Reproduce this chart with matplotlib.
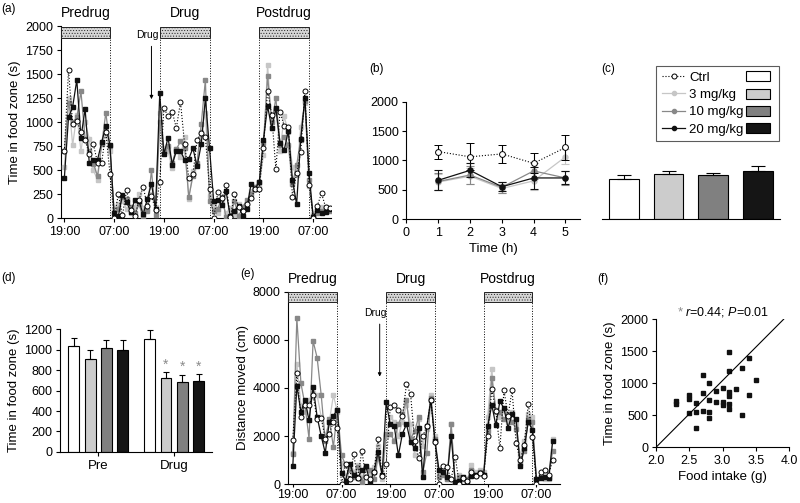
import numpy as np
import matplotlib.pyplot as plt
from matplotlib.lines import Line2D
from matplotlib.patches import Patch, Rectangle

plt.rcParams['font.family'] = ['Liberation Sans', 'DejaVu Sans']
plt.rcParams['font.size'] = 9
plt.rcParams['mathtext.fontset'] = 'custom'
plt.rcParams['mathtext.it'] = 'Liberation Sans:italic'
plt.rcParams['mathtext.rm'] = 'Liberation Sans'
plt.rcParams['axes.linewidth'] = 0.8
plt.rcParams['xtick.major.size'] = 3
plt.rcParams['ytick.major.size'] = 3
plt.rcParams['xtick.major.width'] = 0.8
plt.rcParams['ytick.major.width'] = 0.8
plt.rcParams['xtick.major.pad'] = 2.5
plt.rcParams['ytick.major.pad'] = 2.5
plt.rcParams['axes.labelpad'] = 3
plt.rcParams['hatch.color'] = '#9a9a9a'
plt.rcParams['hatch.linewidth'] = 0.4

GROUPS = ["Ctrl", "3 mg/kg", "10 mg/kg", "20 mg/kg"]

# (a) time in food zone, hourly, from 19:00 predrug day
hours = list(range(65))
a_ctrl = [700, 1540, 980, 1010, 900, 810, 670, 770, 580, 580, 900, 460,
          0, 250, 30, 290, 90, 20, 190, 330, 130, 230, 90,
          380, 1150, 1060, 1110, 940, 1210, 770, 420, 460, 820, 890, 850, 310,
          0, 270, 210, 350, 10, 250, 120, 80, 150, 210, 300, 310,
          735, 1330, 1075, 510, 1110, 960, 955, 225, 470, 695, 1320, 350,
          0, 130, 260, 115, 110]
a_low = [530, 1250, 760, 1080, 700, 1000, 830, 500, 400, 780, 880, 700,
         100, 150, 180, 100, 60, 120, 250, 110, 100, 250, 120,
         1100, 730, 700, 520, 720, 640, 850, 200, 490, 560, 900, 1100, 230,
         130, 50, 170, 50, 110, 30, 150, 90, 140, 280, 330, 340,
         660, 1600, 940, 1130, 700, 1060, 900, 530, 450, 950, 1200, 340,
         40, 80, 120, 120, 90]
a_mid = [700, 1200, 1000, 1050, 1320, 830, 700, 570, 440, 770, 1100, 750,
         0, 100, 220, 200, 120, 50, 150, 0, 80, 500, 30,
         1000, 700, 750, 580, 720, 800, 730, 220, 440, 580, 980, 1440, 180,
         80, 100, 220, 10, 0, 180, 20, 120, 190, 250, 330, 380,
         780, 1480, 1000, 1250, 760, 850, 760, 360, 550, 820, 1220, 400,
         20, 60, 80, 100, 80]
a_high = [420, 1050, 1160, 1440, 840, 1140, 580, 610, 610, 790, 960, 760,
          50, 20, 240, 170, 70, 190, 180, 40, 200, 360, 100,
          1300, 665, 840, 560, 700, 700, 610, 620, 730, 540, 770, 1250, 730,
          180, 190, 140, 280, 20, 80, 130, 20, 100, 355, 310, 380,
          815, 1170, 935, 1145, 785, 710, 910, 400, 145, 830, 1255, 470,
          10, 85, 60, 70, 95]

# (b) first 5 h after drug
b_time = [1, 2, 3, 4, 5]
b_ctrl = [1150, 1060, 1110, 950, 1220]
b_ctrl_err = [120, 230, 150, 170, 220]
b_low = [630, 730, 520, 650, 1060]
b_low_err = [130, 140, 80, 150, 130]
b_mid = [640, 750, 540, 820, 700]
b_mid_err = [150, 160, 90, 140, 120]
b_high = [660, 830, 550, 700, 700]
b_high_err = [170, 120, 80, 190, 110]

# (c) total
c_vals = [682, 767, 745, 813]
c_err = [68, 57, 45, 96]

# (d) pre vs drug
d_pre = [1034, 907, 1015, 995]
d_pre_err = [78, 88, 74, 94]
d_drug = [1102, 722, 686, 696]
d_drug_err = [85, 55, 65, 62]
d_sig = [False, True, True, True]

# (e) distance moved
e_ctrl = [1850, 4600, 2800, 3300, 3300, 3700, 2700, 2750, 1900, 2100, 2600, 2350,
          0, 850, 200, 1250, 250, 1400, 300, 200, 500, 1900, 350,
          850, 3200, 3300, 3100, 2850, 4150, 3750, 1800, 1100, 2000, 2400, 3500, 1750,
          0, 750, 700, 200, 1150, 0, 250, 150, 500, 350, 450, 350,
          2000, 3950, 3050, 1500, 3900, 2850, 3900, 1700, 1000, 1650, 3350, 1950,
          0, 500, 600, 400, 1000]
e_low = [1300, 5000, 3300, 3000, 3500, 3800, 3700, 2800, 2000, 2600, 3700, 3000,
         900, 300, 700, 500, 800, 300, 600, 400, 700, 1600, 200,
         2000, 2800, 2600, 2000, 2600, 3300, 2500, 1200, 2700, 1600, 2300, 3700, 2000,
         500, 700, 200, 2500, 100, 400, 300, 200, 800, 500, 600, 500,
         2800, 4800, 3000, 2800, 3100, 2600, 3000, 2500, 1200, 1800, 2900, 2800,
         100, 400, 200, 200, 1900]
e_mid = [1250, 6900, 4200, 3300, 1900, 5950, 5250, 3700, 1800, 2700, 1550, 3100,
         1200, 800, 600, 300, 700, 100, 700, 600, 200, 1100, 400,
         2100, 2100, 1800, 2500, 2900, 3500, 1900, 2200, 2800, 500, 1300, 3600, 1900,
         300, 400, 200, 2500, 0, 300, 200, 200, 600, 400, 500, 400,
         2200, 4400, 3100, 3000, 2700, 2900, 2600, 2300, 900, 1400, 2700, 2600,
         200, 300, 300, 300, 1400]
e_high = [750, 4100, 3000, 3500, 2650, 4050, 2800, 2000, 1300, 2600, 2850, 3100,
          450, 150, 850, 400, 250, 600, 750, 100, 500, 1350, 400,
          3400, 2500, 2400, 1200, 2100, 2500, 1750, 1500, 2350, 300, 2400, 3500, 1800,
          600, 500, 300, 2000, 100, 150, 300, 50, 350, 400, 450, 400,
          2400, 3300, 2450, 3450, 3150, 2350, 2900, 2700, 750, 1500, 2600, 2250,
          200, 250, 300, 250, 1800]

# (f) food intake vs time in food zone
f_intake = [2.3, 2.3, 2.5, 2.5, 2.5, 2.6, 2.6, 2.6, 2.7, 2.7, 2.7, 2.8, 2.8, 2.8, 2.8,
            2.9, 2.9, 3.0, 3.0, 3.0, 3.1, 3.1, 3.1, 3.1, 3.1, 3.1, 3.2, 3.3, 3.3, 3.4, 3.4, 3.5]
f_time = [727, 675, 810, 758, 530, 686, 545, 306, 1127, 842, 566, 997, 738, 556, 452,
          873, 712, 930, 712, 660, 1491, 1195, 857, 805, 681, 592, 904, 1236, 499, 1387, 810, 1049]
f_slope = 1040
f_intercept = -2080
f_fit_x = [2.0, 3.92]

periods = ["Predrug", "Drug", "Postdrug"]
period_start = [None, 23, 47]
period_end = [11, 35, 59]
tick_hours = [0, 12, 24, 36, 48, 60]
tick_labels = ["19:00", "07:00", "19:00", "07:00", "19:00", "07:00"]

col_line = ['black', '#c6c6c6', '#888888', '#111111']
col_bar = ['white', '#cccccc', '#808080', '#151515']


def style(i, mk):
    if i == 0:
        return dict(color='black', ls=':', lw=0.8, marker='o', mfc='white', mec='black',
                    ms=3.6, mew=0.7, zorder=5)
    return dict(color=col_line[i], ls='-', lw=0.9, marker=mk, mfc=col_line[i], mec=col_line[i],
                ms=2.8, zorder=2 + i)


def strip(ax):
    for s in ['top', 'right']:
        ax.spines[s].set_visible(False)


def timecourse(ax, series, ymax, barh, xlo, xhi, arrow, yticks, ylabel):
    order = [1, 2, 3, 0]
    for i in order:
        ax.plot(hours, series[i], **style(i, 's'))
    ax.set_xlim(xlo, xhi)
    ax.set_ylim(0, ymax)
    for k, name in enumerate(periods):
        x0 = xlo if period_start[k] is None else period_start[k]
        x1 = period_end[k]
        ax.add_patch(Rectangle((x0, ymax - barh), x1 - x0, barh * 0.97, facecolor='#d6d6d6',
                               edgecolor='#222222', lw=0.7, hatch='......', clip_on=False, zorder=6))
        ax.text((x0 + x1) / 2, ymax + barh * 0.5, name, ha='center', va='bottom', fontsize=10)
        for xv in [period_start[k], period_end[k]]:
            if xv is not None:
                ax.plot([xv, xv], [0, ymax - barh], color='black', ls=':', lw=0.7, zorder=1)
    ax.annotate('', xy=(arrow[0], arrow[2]), xytext=(arrow[0], arrow[1]),
                arrowprops=dict(arrowstyle='-|>', lw=0.7, color='black', mutation_scale=5,
                                shrinkA=0, shrinkB=0))
    ax.text(arrow[0] - 1, arrow[1] + barh * 0.55, 'Drug', ha='center', va='bottom', fontsize=7.5)
    ax.set_xticks(tick_hours)
    ax.set_xticklabels(tick_labels)
    ax.set_yticks(yticks)
    ax.set_ylabel(ylabel, fontsize=9.5)
    strip(ax)


fig = plt.figure(figsize=(8, 5.03), dpi=100)

# (a)
ax_a = fig.add_axes([0.0763, 0.566, 0.3375, 0.382])
timecourse(ax_a, [a_ctrl, a_low, a_mid, a_high], 2000, 125, -0.8, 64.3,
           (21, 1790, 1240), np.arange(0, 2001, 250), 'Time in food zone (s)')

# (b)
ax_b = fig.add_axes([0.508, 0.5646, 0.2167, 0.2332])
for i, (v, e) in enumerate(zip([b_ctrl, b_low, b_mid, b_high],
                               [b_ctrl_err, b_low_err, b_mid_err, b_high_err])):
    st = style(i, 'o')
    st['ms'] = 4.2 if i == 0 else 3.6
    ax_b.errorbar(b_time, v, yerr=e, capsize=3, elinewidth=0.8, capthick=0.8, ecolor=st['color'],
                  **st)
ax_b.set_xlim(0, 5.45)
ax_b.set_ylim(0, 2000)
ax_b.set_xticks([0, 1, 2, 3, 4, 5])
ax_b.set_yticks([0, 500, 1000, 1500, 2000])
ax_b.set_xlabel('Time (h)', fontsize=9.5)
strip(ax_b)

# (c)
ax_c = fig.add_axes([0.752, 0.5646, 0.223, 0.2332])
xc = np.arange(4) + 0.5
ax_c.bar(xc, c_vals, width=0.67, color=col_bar, edgecolor='black', lw=0.8,
         yerr=[[0] * 4, c_err], capsize=5, error_kw=dict(elinewidth=0.8, capthick=0.8))
ax_c.set_xlim(0, 4)
ax_c.set_ylim(0, 2000)
ax_c.set_xticks([])
ax_c.set_yticks([])
for s in ['top', 'right', 'left']:
    ax_c.spines[s].set_visible(False)
handles = [Line2D([], [], **style(i, 'o')) for i in range(4)]
for h in handles[1:]:
    h.set_markersize(3)
patches = [Patch(facecolor=col_bar[i], edgecolor='black', lw=0.8) for i in range(4)]
leg = ax_c.legend(handles + patches, GROUPS + [''] * 4, ncol=2, loc='upper left',
                  bbox_to_anchor=(0.27, 1.36), frameon=True, fancybox=False, edgecolor='#333333',
                  fontsize=9.5, handlelength=1.8, handleheight=0.8, columnspacing=0.2,
                  handletextpad=0.3, labelspacing=0.35, borderpad=0.4)
leg.get_frame().set_linewidth(0.8)

# (d)
ax_d = fig.add_axes([0.075, 0.1014, 0.1896, 0.2445])
xd_pre = np.arange(4) + 0.85
xd_drug = np.arange(4) + 5.5
ax_d.bar(xd_pre, d_pre, width=0.67, color=col_bar, edgecolor='black', lw=0.8,
         yerr=[[0] * 4, d_pre_err], capsize=2.2, error_kw=dict(elinewidth=0.8, capthick=0.8))
ax_d.bar(xd_drug, d_drug, width=0.67, color=col_bar, edgecolor='black', lw=0.8,
         yerr=[[0] * 4, d_drug_err], capsize=2.2, error_kw=dict(elinewidth=0.8, capthick=0.8))
for x, v, e, s in zip(xd_drug, d_drug, d_drug_err, d_sig):
    if s:
        ax_d.text(x, v + e + 10, '*', ha='center', va='bottom', color='#8a8a8a', fontsize=10)
ax_d.set_xlim(0, 9.3)
ax_d.set_ylim(0, 1200)
ax_d.set_yticks(np.arange(0, 1201, 200))
ax_d.set_xticks([xd_pre.mean(), xd_drug.mean()])
ax_d.set_xticklabels(['Pre', 'Drug'], fontsize=9.5)
ax_d.set_ylabel('Time in food zone (s)', fontsize=9.5)
strip(ax_d)

# (e)
ax_e = fig.add_axes([0.3604, 0.0372, 0.3396, 0.3831])
timecourse(ax_e, [e_ctrl, e_low, e_mid, e_high], 8000, 430, -1.1, 65.8,
           (21.4, 6650, 4470), np.arange(0, 8001, 2000), 'Distance moved (cm)')
ax_e.tick_params(axis='x', length=2.5, pad=1)

# (f)
ax_f = fig.add_axes([0.82, 0.1107, 0.16625, 0.2551])
ax_f.plot(f_intake, f_time, ls='none', marker='s', ms=3.2, color='#111111')
ax_f.plot(f_fit_x, [f_slope * x + f_intercept for x in f_fit_x], color='black', lw=0.8)
ax_f.set_xlim(2, 4)
ax_f.set_ylim(0, 2000)
ax_f.set_xticks([2.0, 2.5, 3.0, 3.5, 4.0])
ax_f.set_xticklabels(['2.0', '2.5', '3.0', '3.5', '4.0'])
ax_f.set_yticks([0, 500, 1000, 1500, 2000])
ax_f.set_xlabel('Food intake (g)', fontsize=9.5)
ax_f.set_ylabel('Time in food zone (s)', fontsize=9.5)
ax_f.text(2.36, 2110, '*', color='#8a8a8a', ha='center', va='center', fontsize=9.5)
ax_f.text(2.44, 2110, r'$\it{r}$=0.44; $\it{P}$=0.01', ha='left', va='center', fontsize=9)
strip(ax_f)

for lab, x, y in [('(a)', 0.002, 0.982), ('(b)', 0.461, 0.862), ('(c)', 0.752, 0.862),
                  ('(d)', 0.002, 0.448), ('(e)', 0.3, 0.455), ('(f)', 0.746, 0.445)]:
    fig.text(x, y, lab, ha='left', va='center', fontsize=8.5)

fig.savefig('out.png', dpi=100)
